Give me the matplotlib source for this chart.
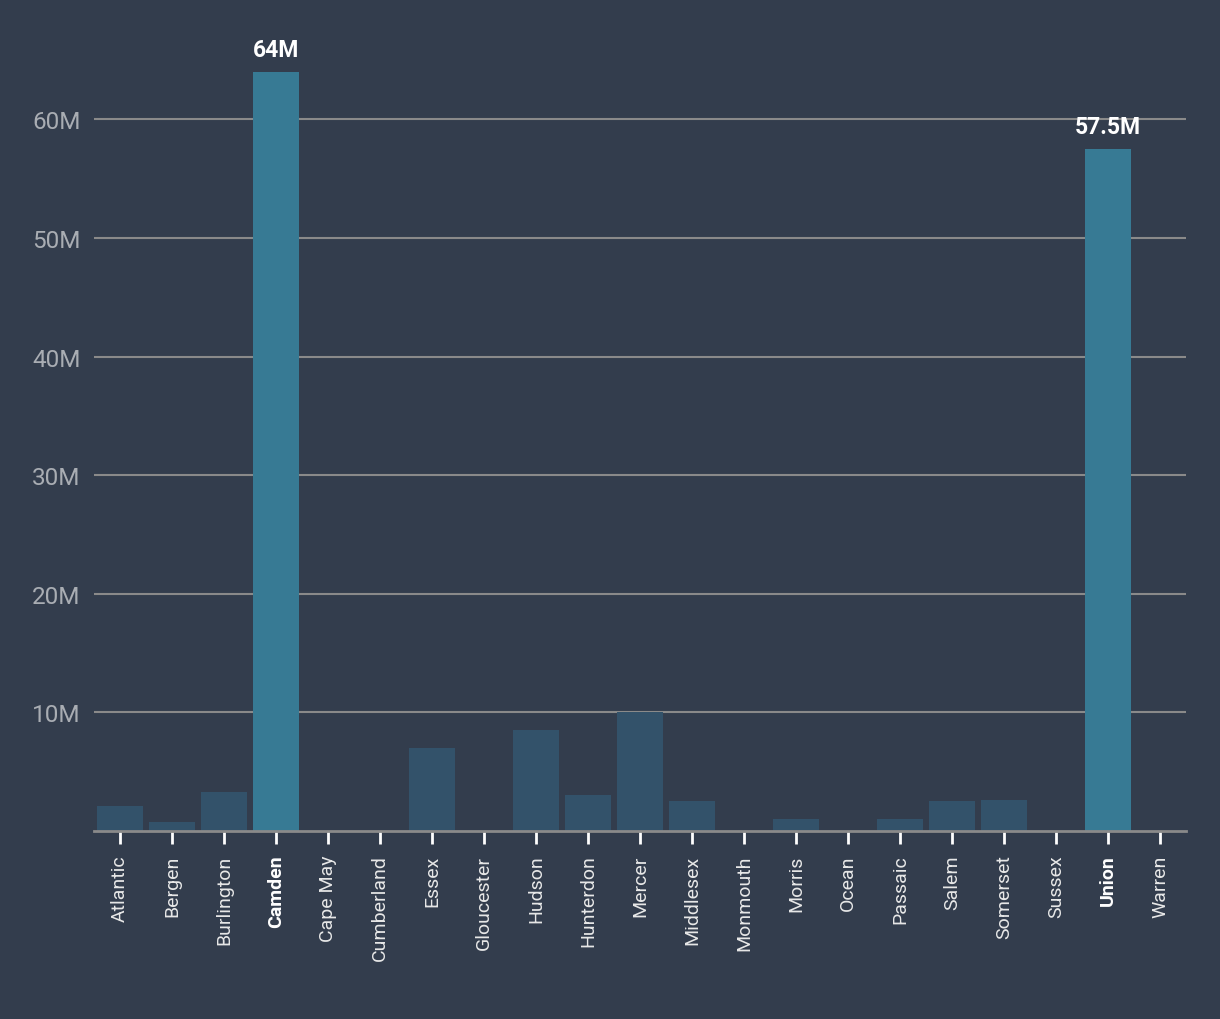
import matplotlib
matplotlib.use("Agg")
import matplotlib.pyplot as plt
from matplotlib.ticker import FuncFormatter

counties = ["Atlantic", "Bergen", "Burlington", "Camden", "Cape May", "Cumberland",
            "Essex", "Gloucester", "Hudson", "Hunterdon", "Mercer", "Middlesex",
            "Monmouth", "Morris", "Ocean", "Passaic", "Salem", "Somerset",
            "Sussex", "Union", "Warren"]
values = [2.1e6, 0.8e6, 3.25e6, 64e6, 0, 0,
          7.0e6, 0, 8.5e6, 3.0e6, 10.0e6, 2.5e6,
          0, 1.0e6, 0, 1.0e6, 2.5e6, 2.6e6,
          0, 57.5e6, 0]
highlight = ["Camden", "Union"]
value_labels = {"Camden": "64M", "Union": "57.5M"}
yticks = [10e6, 20e6, 30e6, 40e6, 50e6, 60e6]

BG = "#333d4d"
HI = "#377a94"
LO = "#33526a"
GRID = "#8a8a8a"

plt.rcParams['font.family'] = ['Roboto', 'DejaVu Sans']

fig = plt.figure(figsize=(12.2, 10.2), dpi=100, facecolor=BG)
ax = fig.add_axes([94/1220, (1020-832)/1020, (1186-94)/1220, (832-73)/1020])
ax.set_facecolor(BG)

x = list(range(len(counties)))
colors = [HI if c in highlight else LO for c in counties]
ax.bar(x, values, width=0.885, color=colors, zorder=3)

ax.set_xlim(-0.5, len(counties) - 0.5)
ax.set_ylim(0, 64e6)

ax.set_yticks(yticks)
ax.yaxis.set_major_formatter(FuncFormatter(lambda v, p: f"{int(v/1e6)}M"))
ax.tick_params(axis='y', length=0, pad=9.5, labelsize=17.5, labelcolor="#a9adb3")
ax.grid(axis='y', color=GRID, linewidth=1.5, zorder=1)

ax.set_xticks(x)
ax.set_xticklabels(counties, rotation=90, fontsize=14, color="#e8e8e8")
for lbl, c in zip(ax.get_xticklabels(), counties):
    if c in highlight:
        lbl.set_fontweight('bold')
        lbl.set_color("white")
ax.tick_params(axis='x', length=9, width=2, color="white", pad=8, direction='out')

for s in ["top", "right", "left"]:
    ax.spines[s].set_visible(False)
ax.spines["bottom"].set_color(GRID)
ax.spines["bottom"].set_linewidth(2)
ax.spines["bottom"].set_zorder(4)

for xi, c, v in zip(x, counties, values):
    if c in value_labels:
        ax.annotate(value_labels[c], (xi, v), xytext=(0, 8), textcoords="offset points",
                    ha="center", va="bottom", fontsize=16.5, fontweight="bold",
                    color="white", annotation_clip=False)

fig.savefig("out.png", dpi=100, facecolor=BG)
